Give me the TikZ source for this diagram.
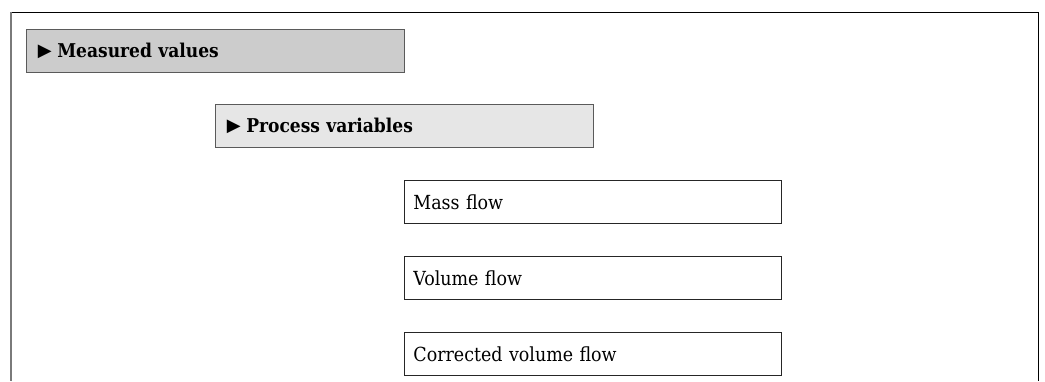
\documentclass[tikz,border=0pt]{standalone}
\usepackage{fontspec}
\setmainfont{DejaVu Serif Condensed}
\newfontfamily\symfont{DejaVu Sans}
\definecolor{menufill}{HTML}{CCCCCC}
\definecolor{subfill}{HTML}{E6E6E6}
\definecolor{menuborder}{HTML}{5A5A5A}
\definecolor{leftline}{HTML}{7A7A7A}
\newcommand{\menutri}{\raisebox{0.3pt}{\symfont\fontsize{18}{20}\selectfont ▶}\hspace{5.5pt}}
\begin{document}
\begin{tikzpicture}[x=1pt,y=1pt,
  basebox/.style={anchor=north west, minimum height=43pt, text width=360pt,
    align=left, inner ysep=0pt, font=\fontsize{19.4}{22}\selectfont},
  menubox/.style={basebox, draw=menuborder, line width=0.9pt, fill=menufill,
    inner xsep=11.5pt, text width=355pt, font=\bfseries\fontsize{19}{22}\selectfont},
  submenubox/.style={menubox, fill=subfill},
  valuebox/.style={basebox, draw=black!85, line width=0.9pt, fill=white,
    inner xsep=9pt, text width=359pt},
  frameline/.style={line width=1pt, draw=black}]
\useasboundingbox (0,0) rectangle (1045,-381);
% outer frame
\draw[frameline] (11,-381) -- (11,-12.3) -- (1038.5,-12.3) -- (1038.5,-381);
\draw[line width=1.6pt, draw=leftline] (11,-11.8) -- (11,-381);
% menu boxes
\node[menubox] (mv) at (26,-29) {\menutri Measured values};
\node[submenubox] (pv) at (215,-104) {\menutri Process variables};
% value boxes
\node[valuebox] (mf) at (404,-180) {Mass flow};
\node[valuebox] (vf) at (404,-256) {Volume flow};
\node[valuebox] (cvf) at (404,-332) {Corrected volume flow};
\end{tikzpicture}
\end{document}
